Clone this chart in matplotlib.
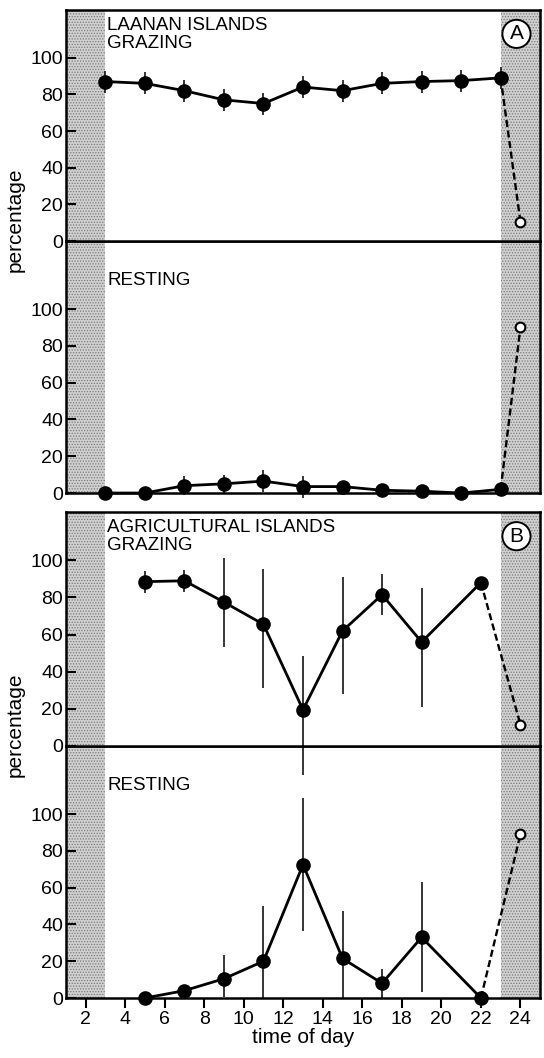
import matplotlib
matplotlib.use("Agg")
import matplotlib.pyplot as plt
import numpy as np

plt.rcParams['font.family'] = ['Liberation Sans Narrow', 'Liberation Sans', 'DejaVu Sans']
plt.rcParams['hatch.linewidth'] = 0.6

# Laanan islands (panel A)
hours_a = [3, 5, 7, 9, 11, 13, 15, 17, 19, 21, 23]
graze_a = [87, 86, 82, 77, 75, 84, 82, 86, 87, 87.5, 89]
graze_a_err = [6, 6, 6, 6, 6, 6, 6, 6, 6, 6, 6]
rest_a = [0, 0, 4, 5, 6.5, 3.5, 3.5, 1.5, 1, 0, 2]
rest_a_err = [0, 0, 5, 5, 6, 6, 3, 1, 1, 0, 1]
night_a = [10.5, 90]   # open symbol at 24 h: grazing, resting

# Agricultural islands (panel B)
hours_b = [5, 7, 9, 11, 13, 15, 17, 19, 22]
graze_b = [88.5, 89, 77.5, 65.5, 19.5, 62, 81.5, 56, 88]
graze_b_lo = [6, 6, 24, 34, 35, 34, 11, 35, 0]
graze_b_hi = [6, 6, 24, 30, 29, 29, 11, 29, 0]
rest_b = [0, 4, 10.5, 20, 72.5, 21.5, 8, 33, 0]
rest_b_lo = [0, 0, 10, 20, 36, 21.5, 8, 30, 0]
rest_b_hi = [0, 0, 13, 30, 36, 26, 8, 30, 0]
night_b = [11.5, 89]

night_hour = 24
xticks = list(range(2, 25, 2))
yticks = [0, 20, 40, 60, 80, 100]

fig = plt.figure(figsize=(5.44, 10.58), dpi=100)

L, W = 0.121, 0.872
TXT = 13.5


def shade(ax):
    for x0, x1 in [(1, 3), (23, 25)]:
        ax.axvspan(x0, x1, facecolor='#d0d0d0', edgecolor='#7a7a7a',
                   hatch='......', linewidth=0, zorder=0)


def style(ax, top):
    ax.set_xlim(1, 25)
    ax.set_yticks(yticks)
    ax.tick_params(axis='y', direction='in', length=7, width=1.5,
                   labelsize=14, pad=2)
    for s in ax.spines.values():
        s.set_linewidth(1.8)
    if top:
        ax.set_xticks([])
    else:
        ax.set_xticks(xticks)
        ax.tick_params(axis='x', direction='out', length=7, width=1.5,
                       labelsize=14)


def series(ax, x, y, lo, hi, last, night):
    ax.errorbar(x, y, yerr=[lo, hi], fmt='none', ecolor='black',
                elinewidth=1.1, capsize=0, zorder=3, clip_on=False)
    ax.plot(x, y, '-', color='black', lw=2.0, marker='o', ms=9.5,
            mfc='black', mec='black', zorder=4, clip_on=False)
    ax.plot([x[-1], night_hour], [last, night], '--', color='black',
            lw=1.7, dashes=(3, 1.5), zorder=4, clip_on=False)
    ax.plot([night_hour], [night], 'o', ms=7, mfc='white', mec='black',
            mew=1.5, zorder=5, clip_on=False)


def panel(bottom, mid, top, hours, g, g_lo, g_hi, r, r_lo, r_hi, night,
          place, letter, labelx):
    ax_r = fig.add_axes([L, bottom, W, mid - bottom])
    ax_g = fig.add_axes([L, mid, W, top - mid])
    shade(ax_g)
    shade(ax_r)
    ax_g.set_ylim(0, 126)
    ax_r.set_ylim(0, 137)
    style(ax_g, True)
    style(ax_r, labelx is False)
    series(ax_g, hours, g, g_lo, g_hi, g[-1], night[0])
    series(ax_r, hours, r, r_lo, r_hi, r[-1], night[1])
    ax_g.text(3.1, 122, place + "\nGRAZING", ha='left', va='top',
              fontsize=TXT, linespacing=1.05)
    ax_r.text(3.1, 120, "RESTING", ha='left', va='top', fontsize=TXT)
    ax_g.text(23.8, 113, letter, ha='center', va='center', fontsize=15,
              bbox=dict(boxstyle='circle,pad=0.22', fc='white', ec='black',
                        lw=1.4))
    fig.text(0.028, mid + 0.02, "percentage", rotation=90, ha='center',
             va='center', fontsize=15)
    return ax_g, ax_r


panel(0.534, 0.7722, 0.9905, hours_a, graze_a, graze_a_err, graze_a_err,
      rest_a, rest_a_err, rest_a_err, night_a, "LAANAN ISLANDS", "A", False)
ax_g, ax_r = panel(0.0567, 0.2949, 0.516, hours_b, graze_b, graze_b_lo,
                   graze_b_hi, rest_b, rest_b_lo, rest_b_hi, night_b,
                   "AGRICULTURAL ISLANDS", "B", True)
ax_r.set_xticks(xticks)
ax_r.tick_params(axis='x', direction='out', length=7, width=1.5,
                 labelsize=14, pad=2)
ax_r.set_xlabel("time of day", fontsize=15, labelpad=0)

fig.savefig("out.png", dpi=100)
